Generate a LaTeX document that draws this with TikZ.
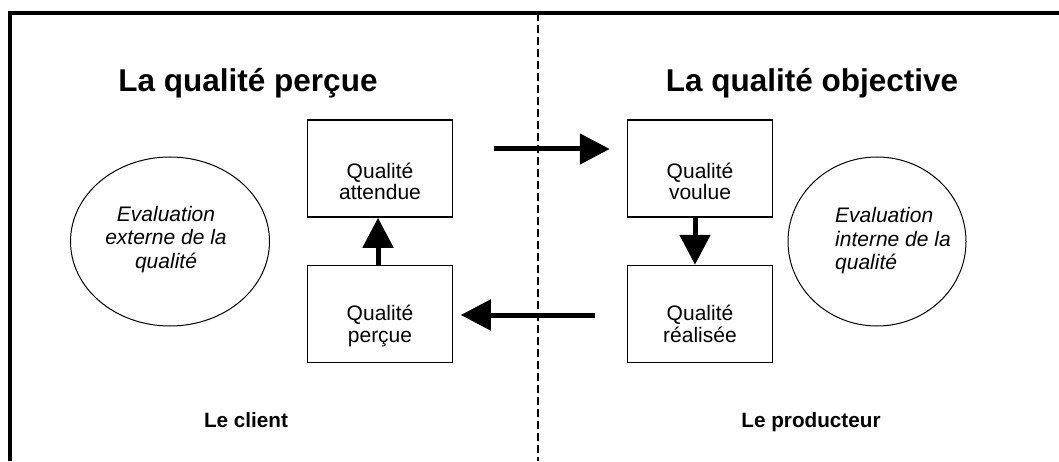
\documentclass[tikz,border=0pt]{standalone}
\usepackage{fontspec}
\setmainfont{Liberation Sans}
\usetikzlibrary{arrows.meta, shapes.geometric}
\tikzset{
  qbox/.style={draw, line width=1.5pt, minimum width=145pt, minimum height=97pt, inner sep=0pt},
  qtxt/.style={align=center, inner sep=0pt, font=\fontsize{21}{21.5}\selectfont},
  evalell/.style={draw, ellipse, line width=1pt, inner sep=0pt},
  evaltxt/.style={inner sep=0pt, font=\fontsize{21}{23.5}\selectfont\itshape},
  ttl/.style={anchor=base, inner sep=0pt, font=\fontsize{31.5}{36}\selectfont\bfseries},
  who/.style={anchor=base, inner sep=0pt, font=\fontsize{20.7}{24}\selectfont\bfseries},
  fleche/.style={line width=5pt, -{Triangle[length=30pt, width=30pt]}}
}
\begin{document}
\begin{tikzpicture}[x=1pt, y=1pt, line join=miter]
    \def\xm{537.5} \def\yt{448} \def\yb{292.5} \def\yd{147}
    \useasboundingbox (0,0) rectangle (1059,461);
    % cadre et separation
    \draw[line width=4pt] (10,0) |- (1059,\yt);
    \draw[line width=2pt, dash pattern=on 8pt off 4pt] (\xm,\yt) -- (\xm,0);
    \node[ttl] (titreg) at (248,369) {La qualité perçue};
    \node[ttl] (titred) at (812,369) {La qualité objective};
    % les quatre qualites
    \node[qbox] (attendue) at (380,\yb) {};
    \node[qbox] (percue) at (380,\yd) {};
    \node[qbox] (voulue) at (700,\yb) {};
    \node[qbox] (realisee) at (700,\yd) {};
    \node[qtxt] (tattendue) at ([yshift=-13pt]attendue.center) {Qualité\\attendue};
    \node[qtxt] (tpercue) at ([yshift=-12pt]percue.center) {Qualité\\perçue};
    \node[qtxt] (tvoulue) at ([yshift=-13pt]voulue.center) {Qualité\\voulue};
    \node[qtxt] (trealisee) at ([yshift=-10pt]realisee.center) {Qualité\\réalisée};
    % evaluations
    \node[evalell, minimum width=199pt, minimum height=169pt] (externe) at (170,219.5) {};
    \node[evalell, minimum width=178pt, minimum height=169pt] (interne) at (877,219.5) {};
    \node[evaltxt, align=center] (texterne) at (166,221.5) {Evaluation\\externe de la\\qualité};
    \node[evaltxt, align=left, anchor=west] (tinterne) at (835,220) {Evaluation\\interne de la\\qualité};
    % fleches
    \draw[fleche, shorten <=41pt, shorten >=17pt] ([yshift=19.5pt]attendue.east) -- ([yshift=19.5pt]voulue.west);
    \draw[fleche, shorten <=31.5pt, shorten >=7.5pt] ([yshift=-1pt]realisee.west) -- ([yshift=-1pt]percue.east);
    \draw[fleche] ([xshift=-2pt]percue.north) -- ([xshift=-2pt]attendue.south);
    \draw[fleche] ([xshift=-5pt]voulue.south) -- ([xshift=-5pt]realisee.north);
    \node[who] (client) at (246,34) {Le client};
    \node[who] (producteur) at (811,34) {Le producteur};
\end{tikzpicture}
\end{document}
